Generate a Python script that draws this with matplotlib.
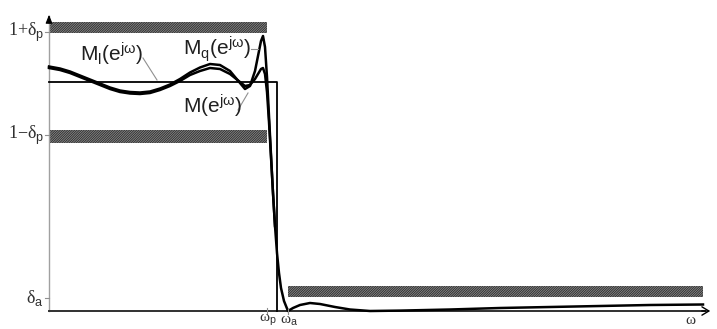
import matplotlib
matplotlib.use('Agg')
import matplotlib.pyplot as plt
from matplotlib.patches import Rectangle

plt.rcParams['mathtext.fontset'] = 'custom'
plt.rcParams['mathtext.rm'] = 'Liberation Sans'
plt.rcParams['mathtext.it'] = 'Liberation Sans:italic'
plt.rcParams['hatch.linewidth'] = 0.6

# frequency (w) and magnitude (h), in drawing units above the w axis
w_m = [0, 11, 21, 31, 41, 51, 61, 71, 81, 91, 101, 111, 121, 131, 141, 151, 161,
       171, 181, 191, 196, 201, 206, 209, 212, 214, 216, 218, 220, 222, 224, 226,
       228, 230, 232, 235, 239, 244, 251, 261, 271, 286, 301, 321, 351, 401, 451,
       501, 551, 601, 654]
h_m = [243, 241, 238, 234, 230, 226, 222, 219, 217.5, 217, 218, 221, 225, 230,
       236, 240, 243, 242, 237, 229, 225, 226, 232, 237, 242, 243, 237, 219, 189,
       154, 118, 85, 58, 38, 23, 10, 0, 3, 6, 8, 7, 4, 1.5, 0, 0.4, 1.5, 3, 4, 5,
       6, 6.5]

w_q = [0, 11, 21, 31, 41, 51, 61, 71, 81, 91, 101, 111, 121, 131, 141, 151, 161,
       171, 181, 191, 196, 201, 206, 209, 212, 214, 216, 218, 220, 222, 224, 226]
h_q = [244.5, 242.5, 239.5, 235.5, 231.5, 227.5, 223.5, 220.5, 219, 218.5, 219.5,
       222.5, 226.5, 232, 238.5, 243.5, 247, 246, 240, 228, 222, 225, 240, 255,
       270, 275, 264, 234, 195, 156, 118, 85]

# ideal response M_l
w_l = [0, 228, 228]
h_l = [229, 229, 0]

# tolerance bands: (w start, w end, h low, h high)
bands = [(0, 218, 278, 289), (0, 218, 168, 181), (239, 654, 14, 25)]

ytick_pos = [279, 176, 13]
ytick_lab = ['1+δ$_{\\mathrm{p}}$', '1−δ$_{\\mathrm{p}}$', 'δ$_{\\mathrm{a}}$']
xtick_pos = [218, 239]
xtick_lab = ['ω$_{\\mathrm{p}}$', 'ω$_{\\mathrm{a}}$']

fig = plt.figure(figsize=(7.17, 3.29), dpi=100)
ax = fig.add_axes([0, 0, 1, 1])
ax.set_xlim(-49, 668)
ax.set_ylim(-18, 311)
ax.axis('off')

# tolerance bands
for x0, x1, y0, y1 in bands:
    ax.add_patch(Rectangle((x0, y0), x1 - x0, y1 - y0, facecolor='#8a8a8a',
                           edgecolor='#2a2a2a', hatch='//////////////',
                           linewidth=0))

# axes with arrows
ax.plot([0, 0], [0, 295], color='#a0a0a0', lw=1.0)
ax.annotate('', xy=(0, 299), xytext=(0, 285),
            arrowprops=dict(arrowstyle='-|>,head_length=0.5,head_width=0.2',
                            color='black', lw=0.8))
ax.plot([0, 656], [0, 0], color='#303030', lw=1.4)
ax.annotate('', xy=(664, 0), xytext=(650, 0),
            arrowprops=dict(arrowstyle='->,head_length=0.5,head_width=0.3',
                            color='black', lw=1.0))

# curves
ax.plot(w_l, h_l, color='black', lw=1.3)
ax.plot(w_m, h_m, color='black', lw=1.8, solid_joinstyle='round')
ax.plot(w_q, h_q, color='black', lw=1.8, solid_joinstyle='round')

# ticks and labels
for y, lab in zip(ytick_pos, ytick_lab):
    ax.plot([-4, 0], [y, y], color='#909090', lw=0.8)
    ax.text(-5, y, lab, ha='right', va='center', fontsize=13,
            family='Liberation Serif', color='#303030')
for x, lab in zip(xtick_pos, xtick_lab):
    ax.plot([x, x], [-3, 3], color='#909090', lw=0.8)
    ax.text(x + 1, -17, lab, ha='center', va='bottom', fontsize=11,
            family='Liberation Serif', color='#303030')
ax.text(641, -16, 'ω', ha='center', va='bottom', fontsize=11,
        family='Liberation Serif', color='#303030')

# curve labels with leader lines
ax.text(31, 249, '$\\mathrm{M_l(e^{j\\omega})}$', fontsize=15,
        family='Liberation Sans', color='#202020')
ax.plot([94, 108], [253, 231], color='#909090', lw=0.8)
ax.text(134, 256, '$\\mathrm{M_q(e^{j\\omega})}$', fontsize=15,
        family='Liberation Sans', color='#202020')
ax.plot([202, 209], [262, 262], color='#909090', lw=0.8)
ax.text(134, 198, '$\\mathrm{M(e^{j\\omega})}$', fontsize=15,
        family='Liberation Sans', color='#202020')
ax.plot([189, 199], [201, 218], color='#909090', lw=0.8)

fig.savefig('out.png', dpi=100)
